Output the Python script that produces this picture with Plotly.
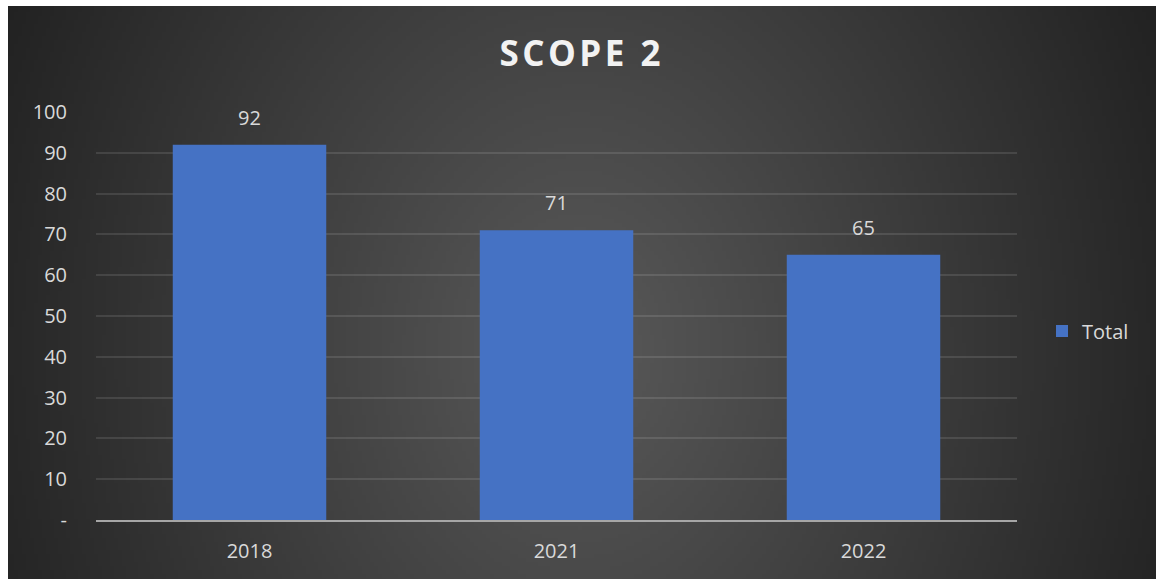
import base64
import struct
import zlib

import numpy as np
import plotly.graph_objects as go

# ---- data ----
categories = ["2018", "2021", "2022"]
values = [92, 71, 65]
series_name = "Total"
y_tickvals = [0, 10, 20, 30, 40, 50, 60, 70, 80, 90, 100]
y_ticktext = ["-", "10", "20", "30", "40", "50", "60", "70", "80", "90", "100"]

# ---- figure geometry (figure pixels; page offset 8px left, 6px top) ----
OFF_L, OFF_T = 8, 6
W, H = 1164, 590
PL, PR, PT, PB = 96 - OFF_L, 1017 - OFF_L, 112 - OFF_T, 520 - OFF_T


def png_data_uri(arr):
    h, w = arr.shape
    raw = b"".join(b"\x00" + bytes(np.repeat(row, 3).astype(np.uint8)) for row in arr)

    def chunk(tag, data):
        c = struct.pack(">I", len(data)) + tag + data
        return c + struct.pack(">I", zlib.crc32(tag + data) & 0xFFFFFFFF)

    png = b"\x89PNG\r\n\x1a\n"
    png += chunk(b"IHDR", struct.pack(">IIBBBBB", w, h, 8, 2, 0, 0, 0))
    png += chunk(b"IDAT", zlib.compress(raw, 9))
    png += chunk(b"IEND", b"")
    return "data:image/png;base64," + base64.b64encode(png).decode()


# radial background gradient (style only)
gw, gh = 291, 148
xs = np.linspace(0, W, gw)
ys = np.linspace(0, H, gh)
X, Y = np.meshgrid(xs, ys)
r = np.sqrt(((X - (580 - OFF_L)) / 636.0) ** 2 + ((Y - (350 - OFF_T)) / 800.0) ** 2)
r = np.clip(r, 0, 1)
shade = 0x59 - (0x59 - 0x22) * r
bg_uri = png_data_uri(np.round(shade).astype(np.uint8))

pw = PR - PL
ph = PB - PT

fig = go.Figure()
fig.add_trace(go.Bar(
    x=categories,
    y=values,
    name=series_name,
    width=0.5,
    marker=dict(color="#4572c4", line=dict(width=0)),
    hoverinfo="x+y",
))

# data labels, positioned by category index and value
for i, v in enumerate(values):
    fig.add_annotation(
        x=i, y=v, text=str(v), showarrow=False,
        xref="x", yref="y",
        yanchor="bottom", yshift=12,
        font=dict(family="Open Sans", size=20, color="#d9d9d9"),
    )

fig.add_layout_image(dict(
    source=bg_uri,
    xref="paper", yref="paper",
    x=(0 - PL) / pw, y=(PB - 0) / ph,
    sizex=W / pw, sizey=H / ph,
    xanchor="left", yanchor="top",
    sizing="stretch", layer="below",
))

fig.update_layout(
    width=W, height=H,
    margin=dict(l=PL, r=W - PR, t=PT, b=H - PB, pad=0, autoexpand=False),
    paper_bgcolor="#2b2b2b",
    plot_bgcolor="rgba(0,0,0,0)",
    title=dict(
        text="<b>S\u200aC\u200aO\u200aP\u200aE\u200a \u200a2</b>",
        x=(580 - OFF_L) / W, xanchor="center",
        y=1 - (54 - OFF_T) / H, yanchor="middle", yref="container",
        font=dict(family="Open Sans", size=35, color="#f2f2f2"),
    ),
    font=dict(family="Open Sans", size=20, color="#d9d9d9"),
    showlegend=True,
    legend=dict(
        x=(1042 - OFF_L - PL) / pw, y=(PB - (331 - OFF_T)) / ph,
        xanchor="left", yanchor="middle",
        bgcolor="rgba(0,0,0,0)",
        font=dict(family="Open Sans", size=20, color="#d9d9d9"),
    ),
    bargap=0.5,
)

fig.update_xaxes(
    type="category",
    categoryorder="array", categoryarray=categories,
    range=[-0.5, len(categories) - 0.5],
    showgrid=False,
    showline=True, linecolor="#a6a6a6", linewidth=2,
    ticks="", ticklabelstandoff=12,
    tickfont=dict(family="Open Sans", size=20, color="#d9d9d9"),
    fixedrange=True,
)
fig.update_yaxes(
    range=[0, 100],
    tickvals=y_tickvals, ticktext=y_ticktext,
    showgrid=True, gridcolor="rgba(255,255,255,0.11)", gridwidth=2,
    zeroline=False, showline=False,
    ticks="", ticklabelstandoff=28,
    tickfont=dict(family="Open Sans", size=20, color="#d9d9d9"),
    fixedrange=True,
)

page_css = (
    "document.body.style.margin='%dpx 0 0 %dpx';"
    "document.body.style.overflow='hidden';"
    "document.documentElement.style.overflow='hidden';" % (OFF_T, OFF_L)
)
fig.write_html("out.html", post_script=page_css)
